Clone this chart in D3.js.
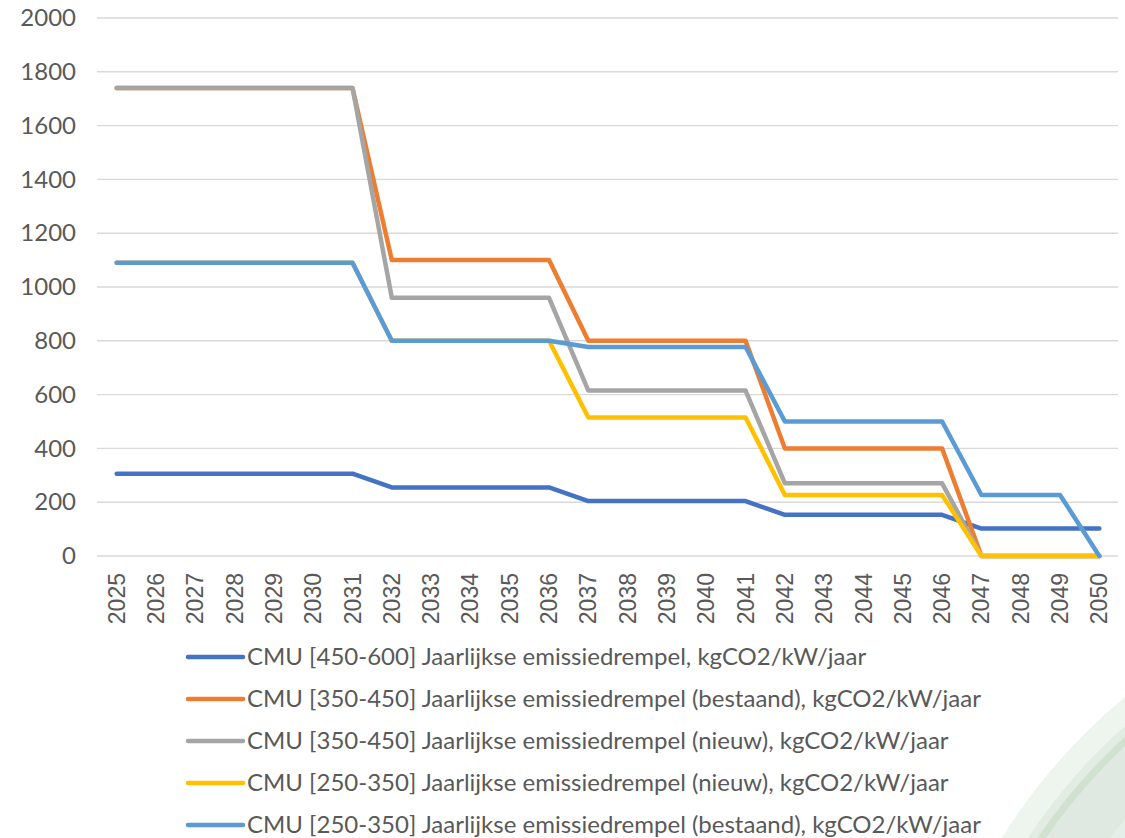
<!DOCTYPE html>
<html>
<head>
<meta charset="utf-8">
<script src="https://cdn.jsdelivr.net/npm/d3@7"></script>
<style>
    body { margin: 0; background: #fff; }
    svg { display: block; }
</style>
</head>
<body>
<svg id="chart" width="1125" height="838"></svg>
<script>
// Chart data
const years = ['2025', '2026', '2027', '2028', '2029', '2030', '2031', '2032', '2033', '2034', '2035', '2036', '2037',
    '2038', '2039', '2040', '2041', '2042', '2043', '2044', '2045', '2046', '2047', '2048', '2049', '2050'];

const cmu450600 = [306, 306, 306, 306, 306, 306, 306, 255, 255, 255, 255, 255, 204, 204, 204, 204, 204,
    153, 153, 153, 153, 153, 102, 102, 102, 102];
const cmu350450Bestaand = [1740, 1740, 1740, 1740, 1740, 1740, 1740, 1100, 1100, 1100, 1100, 1100, 800, 800, 800, 800, 800,
    400, 400, 400, 400, 400, 0, 0, 0, 0];
const cmu350450Nieuw = [1740, 1740, 1740, 1740, 1740, 1740, 1740, 960, 960, 960, 960, 960, 615, 615, 615, 615, 615,
    270, 270, 270, 270, 270, 0, 0, 0, 0];
const cmu250350Nieuw = [1090, 1090, 1090, 1090, 1090, 1090, 1090, 800, 800, 800, 800, 800, 515, 515, 515, 515, 515,
    227, 227, 227, 227, 227, 0, 0, 0, 0];
const cmu250350Bestaand = [1090, 1090, 1090, 1090, 1090, 1090, 1090, 800, 800, 800, 800, 800, 777, 777, 777, 777, 777,
    500, 500, 500, 500, 500, 227, 227, 227, 0];

const yTicks = [0, 200, 400, 600, 800, 1000, 1200, 1400, 1600, 1800, 2000];

const seriesNames = [
    'CMU [450-600] Jaarlijkse emissiedrempel, kgCO2/kW/jaar',
    'CMU [350-450] Jaarlijkse emissiedrempel (bestaand), kgCO2/kW/jaar',
    'CMU [350-450] Jaarlijkse emissiedrempel (nieuw), kgCO2/kW/jaar',
    'CMU [250-350] Jaarlijkse emissiedrempel (nieuw), kgCO2/kW/jaar',
    'CMU [250-350] Jaarlijkse emissiedrempel (bestaand), kgCO2/kW/jaar'
];
const seriesColors = ['#4472c4', '#ed7d31', '#a5a5a5', '#ffc000', '#5b9bd5'];

const series = [cmu450600, cmu350450Bestaand, cmu350450Nieuw, cmu250350Nieuw, cmu250350Bestaand]
    .map((values, i) => ({ name: seriesNames[i], color: seriesColors[i], values }));

const svg = d3.select('#chart');

// Decorative green arcs in the bottom-right corner (background artwork)
const deco = svg.append('g');
[
    { r: 588, fill: '#eef4ee' },
    { r: 566, fill: '#e2ece2' },
    { r: 558, fill: '#d0e1d0' },
    { r: 551, fill: '#dfe9e2' },
    { r: 500, fill: '#e6eee9' }
].forEach(c => {
    deco.append('circle')
        .attr('cx', 1500).attr('cy', 1150).attr('r', c.r)
        .attr('fill', c.fill);
});

const margin = { top: 18, left: 97, right: 6 };
const plotBottom = 556;

const x = d3.scaleBand()
    .domain(years)
    .range([margin.left, 1125 - margin.right]);

const y = d3.scaleLinear()
    .domain([0, 2000])
    .range([plotBottom, margin.top]);

const cx = d => x(d) + x.bandwidth() / 2;

// Gridlines
svg.append('g')
    .selectAll('line')
    .data(yTicks)
    .enter()
    .append('line')
    .attr('x1', margin.left)
    .attr('x2', 1118)
    .attr('y1', d => y(d))
    .attr('y2', d => y(d))
    .attr('stroke', '#d9d9d9')
    .attr('stroke-width', 1.4);

// Y axis labels
const yAxis = svg.append('g')
    .attr('transform', `translate(76,0)`)
    .call(d3.axisLeft(y).tickValues(yTicks).tickFormat(d3.format('d')).tickSize(0).tickPadding(0));
yAxis.select('.domain').remove();
yAxis.selectAll('text')
    .style('font-family', 'Lato, sans-serif')
    .style('font-size', '24px')
    .attr('fill', '#595959');

// X axis labels, rotated
const xAxis = svg.append('g')
    .attr('transform', `translate(0,${plotBottom})`)
    .call(d3.axisBottom(x).tickSize(0));
xAxis.select('.domain').remove();
xAxis.selectAll('text')
    .attr('transform', 'rotate(-90)')
    .attr('x', -17)
    .attr('y', 0)
    .attr('dy', '0.35em')
    .style('text-anchor', 'end')
    .style('font-family', '"Liberation Sans", Arial, sans-serif')
    .style('font-size', '23px')
    .attr('fill', '#595959');

// Lines
const line = d3.line()
    .x((d, i) => cx(years[i]))
    .y(d => y(d));

svg.append('g')
    .selectAll('path')
    .data(series)
    .enter()
    .append('path')
    .attr('fill', 'none')
    .attr('stroke', d => d.color)
    .attr('stroke-width', 4.5)
    .attr('stroke-linejoin', 'round')
    .attr('stroke-linecap', 'round')
    .attr('d', d => line(d.values));

// Legend
const legend = svg.append('g')
    .selectAll('g')
    .data(series)
    .enter()
    .append('g')
    .attr('transform', (d, i) => `translate(188,${657 + i * 42})`);

legend.append('line')
    .attr('x1', 0)
    .attr('x2', 55)
    .attr('stroke', d => d.color)
    .attr('stroke-width', 4.5)
    .attr('stroke-linecap', 'round');

legend.append('text')
    .attr('x', 59)
    .attr('dy', '0.35em')
    .text(d => d.name)
    .style('font-family', 'Lato, sans-serif')
    .style('font-size', '24px')
    .attr('fill', '#595959');
</script>
</body>
</html>
